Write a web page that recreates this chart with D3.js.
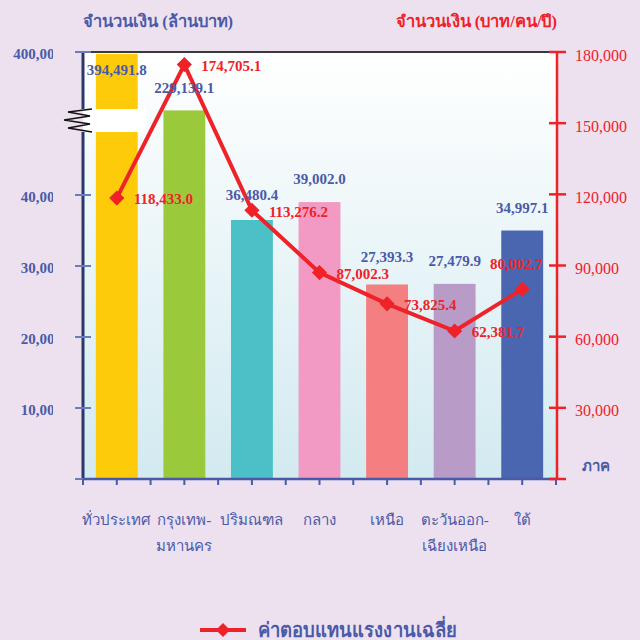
<!DOCTYPE html>
<html>
<head>
<meta charset="utf-8">
<script src="https://cdn.jsdelivr.net/npm/d3@7/dist/d3.min.js"></script>
<style>
  body { margin: 0; background: #ede1ef; }
  svg { display: block; }
</style>
</head>
<body>
<svg id="chart" width="640" height="640"></svg>
<script>
// data
let regions = [['ทั่วประเทศ'], ['กรุงเทพ-', 'มหานคร'], ['ปริมณฑล'], ['กลาง'], ['เหนือ'], ['ตะวันออก-', 'เฉียงเหนือ'], ['ใต้']]
let totalPay = [394491.8, 229139.1, 36480.4, 39002.0, 27393.3, 27479.9, 34997.1]   // ล้านบาท
let avgPay = [118433.0, 174705.1, 113276.2, 87002.3, 73825.4, 62381.7, 80002.7]     // บาท/คน/ปี
let barColors = ['#fecb0a', '#9bc93c', '#4bc0c6', '#f29ac3', '#f47f80', '#b99bc7', '#4a66b0']
let leftTicks = [10000, 20000, 30000, 40000, 400000]
let rightTicks = [30000, 60000, 90000, 120000, 150000, 180000]

let svg = d3.select('#chart')
let pLeft = 83, pRight = 556, pTop = 52, pBottom = 479
let blue = '#4a5aa8', red = '#ee2228'
let serif = '"Liberation Serif", "Times New Roman", serif'
let thai = '"Liberation Serif", "DejaVu Serif", serif'

let x = d3.scaleBand()
  .domain(d3.range(regions.length))
  .range([pLeft, pRight])
  .paddingInner(0.38)
  .paddingOuter(0.19)
// broken left axis: 0-40,000 normal, then squeezed up to 400,000
let yL = d3.scaleLinear()
  .domain([0, 40000, 230000, 400000])
  .range([pBottom, 195, 110, pTop])
let yR = d3.scaleLinear()
  .domain([0, 180000])
  .range([pBottom, pTop])

let fmt = d3.format(',.1f')
let fmt0 = d3.format(',')

// plot background gradient
let defs = svg.append('defs')
let grad = defs.append('linearGradient').attr('id', 'bg').attr('x1', 0).attr('x2', 0).attr('y1', 0).attr('y2', 1)
grad.append('stop').attr('offset', '0%').attr('stop-color', '#ffffff')
grad.append('stop').attr('offset', '100%').attr('stop-color', '#d2eaf0')
defs.append('clipPath').attr('id', 'leftclip')
  .append('rect').attr('x', 0).attr('y', 0).attr('width', 53).attr('height', 640)

svg.append('rect')
  .attr('x', pLeft).attr('y', pTop)
  .attr('width', pRight - pLeft).attr('height', pBottom - pTop)
  .attr('fill', 'url(#bg)')
svg.append('line')
  .attr('x1', pLeft).attr('x2', pRight).attr('y1', pTop).attr('y2', pTop)
  .attr('stroke', '#3a3a3a').attr('stroke-width', 2)

// bars
svg.append('g').selectAll('rect')
  .data(totalPay)
  .enter().append('rect')
  .attr('x', (d, i) => x(i))
  .attr('y', d => yL(d))
  .attr('width', x.bandwidth())
  .attr('height', d => pBottom - yL(d))
  .attr('fill', (d, i) => barColors[i])

// axis break over the first bar
let breakTop = yL(230000) - 1
svg.append('rect')
  .attr('x', pLeft + 2).attr('y', breakTop)
  .attr('width', x(0) + x.bandwidth() + 6 - pLeft).attr('height', 23)
  .attr('fill', '#fff')
let zz = [[92, 0], [68, 3], [90, 7], [64, 11], [90, 15], [68, 19], [92, 23]]
svg.append('path')
  .attr('d', d3.line()(zz.map(p => [p[0], breakTop + p[1]])))
  .attr('fill', 'none').attr('stroke', '#111').attr('stroke-width', 1.3)

// left axis
svg.append('line')
  .attr('x1', pLeft).attr('x2', pLeft).attr('y1', pTop).attr('y2', breakTop)
  .attr('stroke', '#2c3868').attr('stroke-width', 3)
svg.append('line')
  .attr('x1', pLeft).attr('x2', pLeft).attr('y1', breakTop + 23).attr('y2', pBottom + 1)
  .attr('stroke', '#2c3868').attr('stroke-width', 3)
svg.append('g').selectAll('line')
  .data(leftTicks.concat([0]))
  .enter().append('line')
  .attr('x1', 75).attr('x2', 91)
  .attr('y1', d => yL(d)).attr('y2', d => yL(d))
  .attr('stroke', '#6b7bbf').attr('stroke-width', 2)
svg.append('g').attr('clip-path', 'url(#leftclip)').selectAll('text')
  .data(leftTicks)
  .enter().append('text')
  .attr('x', 62).attr('y', d => yL(d) + 2)
  .attr('dy', '0.35em')
  .attr('text-anchor', 'end')
  .attr('fill', blue)
  .style('font', 'bold 15px ' + serif)
  .text(d => fmt0(d))

// bottom axis
svg.append('line')
  .attr('x1', pLeft).attr('x2', pRight + 1).attr('y1', pBottom).attr('y2', pBottom)
  .attr('stroke', blue).attr('stroke-width', 2.5)
let halfSteps = d3.range(regions.length * 2 + 1).map(k => pLeft + k * x.step() / 2)
svg.append('g').selectAll('line')
  .data(halfSteps)
  .enter().append('line')
  .attr('x1', d => d).attr('x2', d => d)
  .attr('y1', pBottom).attr('y2', pBottom + 6)
  .attr('stroke', blue).attr('stroke-width', 2)

// right axis
svg.append('line')
  .attr('x1', pRight + 1).attr('x2', pRight + 1).attr('y1', pTop).attr('y2', pBottom + 1)
  .attr('stroke', red).attr('stroke-width', 2.5)
svg.append('g').selectAll('line')
  .data(rightTicks.concat([0]))
  .enter().append('line')
  .attr('x1', pRight - 7).attr('x2', pRight + 10)
  .attr('y1', d => yR(d)).attr('y2', d => yR(d))
  .attr('stroke', red).attr('stroke-width', 2.5)
svg.append('g').selectAll('text')
  .data(rightTicks)
  .enter().append('text')
  .attr('x', 575).attr('y', d => yR(d) + 3)
  .attr('dy', '0.35em')
  .attr('fill', red)
  .style('font', '16px ' + serif)
  .text(d => fmt0(d))

// average pay line
let cx = i => x(i) + x.bandwidth() / 2
let diamond = d3.symbol().type(d3.symbolSquare)
svg.append('path')
  .datum(avgPay)
  .attr('d', d3.line().x((d, i) => cx(i)).y(d => yR(d)))
  .attr('fill', 'none').attr('stroke', red).attr('stroke-width', 4)
svg.append('g').selectAll('path')
  .data(avgPay)
  .enter().append('path')
  .attr('d', diamond.size(115))
  .attr('transform', (d, i) => 'translate(' + cx(i) + ',' + yR(d) + ')rotate(45)')
  .attr('fill', red)
let lineLabels = svg.append('g').selectAll('text')
  .data(avgPay)
  .enter().append('text')
  .each(function (d, i) {
    let t = d3.select(this)
    let tooWide = cx(i) + 17 + 62 > pRight
    t.attr('x', tooWide ? cx(i) - 6 : cx(i) + 17)
      .attr('y', tooWide ? yR(d) - 25 : yR(d) + 1)
      .attr('text-anchor', tooWide ? 'middle' : 'start')
  })
  .attr('dy', '0.35em')
  .attr('fill', red)
  .style('font', 'bold 15px ' + serif)
  .text(d => fmt(d))
let redBoxes = lineLabels.nodes().map(n => n.getBBox())

// bar value labels, pushed up when they hit a red label
svg.append('g').selectAll('text')
  .data(totalPay)
  .enter().append('text')
  .attr('x', (d, i) => x(i) + x.bandwidth() / 2)
  .attr('y', d => Math.max(yL(d) - 23, 70))
  .attr('dy', '0.35em')
  .attr('text-anchor', 'middle')
  .attr('fill', blue)
  .style('font', 'bold 15px ' + serif)
  .text(d => fmt(d))
  .each(function () {
    let b = this.getBBox()
    redBoxes.forEach(r => {
      let hitX = b.x < r.x + r.width && r.x < b.x + b.width
      let hitY = b.y < r.y + r.height && r.y < b.y + b.height
      if (hitX && hitY) {
        let shift = b.y + b.height - r.y + 1
        d3.select(this).attr('y', +d3.select(this).attr('y') - shift)
        b = this.getBBox()
      }
    })
  })

// category labels
svg.append('g').selectAll('text')
  .data(regions)
  .enter().append('text')
  .attr('x', (d, i) => cx(i))
  .attr('y', 522)
  .attr('text-anchor', 'middle')
  .attr('fill', blue)
  .style('font', '15px ' + thai)
  .each(function (d) {
    let px = d3.select(this).attr('x')
    d3.select(this).selectAll('tspan')
      .data(d)
      .enter().append('tspan')
      .attr('x', px)
      .attr('dy', (s, j) => j ? 26 : 0)
      .attr('dominant-baseline', 'middle')
      .text(s => s)
  })

// titles
svg.append('text')
  .attr('x', pLeft).attr('y', 21).attr('dy', '0.35em')
  .attr('fill', blue)
  .style('font', 'bold 16.5px ' + thai)
  .text('จำนวนเงิน (ล้านบาท)')
svg.append('text')
  .attr('x', pRight + 1).attr('y', 21).attr('dy', '0.35em')
  .attr('text-anchor', 'end')
  .attr('fill', red)
  .style('font', 'bold 16.5px ' + thai)
  .text('จำนวนเงิน (บาท/คน/ปี)')
svg.append('text')
  .attr('x', 596).attr('y', 466).attr('dy', '0.35em')
  .attr('text-anchor', 'middle')
  .attr('fill', blue)
  .style('font', 'bold 15px ' + thai)
  .text('ภาค')

// legend
svg.append('line')
  .attr('x1', 200).attr('x2', 246).attr('y1', 630).attr('y2', 630)
  .attr('stroke', red).attr('stroke-width', 4)
svg.append('path')
  .attr('d', diamond.size(100))
  .attr('transform', 'translate(223,630)rotate(45)')
  .attr('fill', red)
svg.append('text')
  .attr('x', 258).attr('y', 630).attr('dy', '0.35em')
  .attr('fill', blue)
  .attr('textLength', 199)
  .attr('lengthAdjust', 'spacingAndGlyphs')
  .style('font', 'bold 20px ' + thai)
  .text('ค่าตอบแทนแรงงานเฉลี่ย')
</script>
</body>
</html>
